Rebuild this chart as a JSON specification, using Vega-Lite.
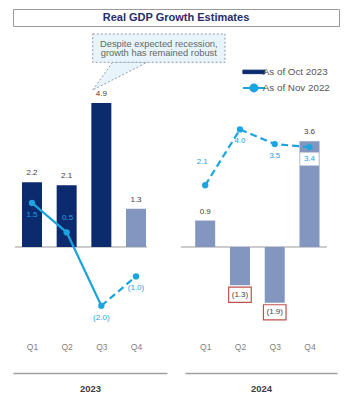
{
  "$schema": "https://vega.github.io/schema/vega-lite/v6.json",
  "padding": {"left": 12, "top": 8, "right": 0, "bottom": 0},
  "spacing": 5,
  "bounds": "flush",
  "datasets": {
    "gdp": [
      {"year": "2023", "q": 1, "oct2023": 2.2, "nov2022": 1.5, "status": "Actual"},
      {"year": "2023", "q": 2, "oct2023": 2.1, "nov2022": 0.5, "status": "Actual"},
      {"year": "2023", "q": 3, "oct2023": 4.9, "nov2022": -2.0, "status": "Actual"},
      {"year": "2023", "q": 4, "oct2023": 1.3, "nov2022": -1.0, "status": "Estimate"},
      {"year": "2024", "q": 1, "oct2023": 0.9, "nov2022": 2.1, "status": "Estimate"},
      {"year": "2024", "q": 2, "oct2023": -1.3, "nov2022": 4.0, "status": "Estimate"},
      {"year": "2024", "q": 3, "oct2023": -1.9, "nov2022": 3.5, "status": "Estimate"},
      {"year": "2024", "q": 4, "oct2023": 3.6, "nov2022": 3.4, "status": "Estimate"}
    ],
    "note": [{"note": ["Despite expected recession,", "growth has remained robust"]}]
  },
  "vconcat": [
    {
      "width": 326,
      "height": 17,
      "view": {"stroke": "#9a9a9a", "strokeWidth": 1},
      "data": {"values": [{"title": "Real GDP Growth Estimates"}]},
      "mark": {"type": "text", "fontSize": 11, "fontWeight": "bold", "color": "#1f2d6d", "font": "Liberation Sans"},
      "encoding": {"text": {"field": "title", "type": "nominal"}}
    },
    {
      "hconcat": [
        {
          "width": 154,
          "height": 342,
          "data": {"name": "gdp"},
          "layer": [
            {
              "transform": [{"filter": "datum.year === '2023'"}, {"aggregate": [{"op": "count", "as": "n"}]}],
              "mark": {"type": "rule", "color": "#9b9b9b", "strokeWidth": 1},
              "encoding": {
                "x": {"datum": 0.51, "type": "quantitative", "title": "2023", "scale": {"domain": [0.452, 4.894], "nice": false, "zero": false, "padding": 0}},
                "x2": {"datum": 4.317},
                "y": {"datum": 0, "type": "quantitative", "scale": {"domain": [-4.286, 7.347], "nice": false, "zero": false, "padding": 0}, "axis": null}
              }
            },
            {
              "transform": [{"filter": "datum.year === '2023'"}],
              "mark": {"type": "bar", "width": 20},
              "encoding": {
                "x": {"field": "q", "type": "quantitative", "title": "2023", "scale": {"domain": [0.452, 4.894], "nice": false, "zero": false, "padding": 0}},
                "y": {"field": "oct2023", "type": "quantitative", "scale": {"domain": [-4.286, 7.347], "nice": false, "zero": false, "padding": 0}, "axis": null},
                "y2": {"datum": 0},
                "color": {"field": "status", "type": "nominal", "scale": {"domain": ["Actual", "Estimate"], "range": ["#0b2b6e", "#8396c0"]}, "legend": null}
              }
            },
            {
              "transform": [{"filter": "datum.year === '2023'"}, {"filter": "datum.oct2023 >= 0"}],
              "mark": {"type": "text", "dy": -9, "fontSize": 8, "color": "#404040"},
              "encoding": {
                "x": {"field": "q", "type": "quantitative", "title": "2023", "scale": {"domain": [0.452, 4.894], "nice": false, "zero": false, "padding": 0}},
                "y": {"field": "oct2023", "type": "quantitative", "scale": {"domain": [-4.286, 7.347], "nice": false, "zero": false, "padding": 0}, "axis": null},
                "text": {"field": "oct2023", "type": "quantitative", "format": "(.1f"}
              }
            },
            {
              "transform": [{"filter": "datum.year === '2023'"}, {"filter": "datum.q <= 3"}],
              "mark": {"type": "line", "strokeWidth": 2.2},
              "encoding": {
                "x": {"field": "q", "type": "quantitative", "title": "2023", "scale": {"domain": [0.452, 4.894], "nice": false, "zero": false, "padding": 0}},
                "y": {"field": "nov2022", "type": "quantitative", "scale": {"domain": [-4.286, 7.347], "nice": false, "zero": false, "padding": 0}, "axis": null},
                "stroke": {
                  "datum": "As of Nov 2022",
                  "type": "nominal",
                  "scale": {"domain": ["As of Oct 2023", "As of Nov 2022"], "range": ["#0b2b6e", "#1ca4e0"]},
                  "legend": {
                    "title": null,
                    "orient": "none",
                    "legendX": 236,
                    "legendY": 58,
                    "padding": 0,
                    "symbolSize": 196,
                    "labelOffset": 4,
                    "rowPadding": 3,
                    "labelFontSize": 9.8,
                    "labelColor": "#555555",
                    "labelFont": "Liberation Sans",
                    "encode": {
                      "symbols": {
                        "update": {
                          "shape": {"signal": "datum.value === 'As of Oct 2023' ? 'M-1.571,-0.25H1.571V0.25H-1.571Z' : 'M-1.571,0H-0.5A0.5,0.5 0 1 1 0.5,0A0.5,0.5 0 1 1 -0.5,0M0.5,0H1.571'"},
                          "fill": {"signal": "datum.value === 'As of Oct 2023' ? '#0b2b6e' : '#1ca4e0'"},
                          "stroke": {"signal": "datum.value === 'As of Oct 2023' ? '#0b2b6e' : '#1ca4e0'"},
                          "strokeWidth": {"signal": "datum.value === 'As of Oct 2023' ? 1 : 2"},
                          "opacity": {"value": 1}
                        }
                      }
                    }
                  }
                }
              }
            },
            {
              "transform": [{"filter": "datum.year === '2023'"}, {"filter": "datum.q >= 3"}],
              "mark": {"type": "line", "strokeWidth": 2.2, "stroke": "#1ca4e0", "strokeDash": [7, 4]},
              "encoding": {
                "x": {"field": "q", "type": "quantitative", "title": "2023", "scale": {"domain": [0.452, 4.894], "nice": false, "zero": false, "padding": 0}},
                "y": {"field": "nov2022", "type": "quantitative", "scale": {"domain": [-4.286, 7.347], "nice": false, "zero": false, "padding": 0}, "axis": null}
              }
            },
            {
              "transform": [{"filter": "datum.year === '2023'"}],
              "mark": {"type": "circle", "size": 40, "color": "#1ca4e0", "opacity": 1},
              "encoding": {
                "x": {"field": "q", "type": "quantitative", "title": "2023", "scale": {"domain": [0.452, 4.894], "nice": false, "zero": false, "padding": 0}},
                "y": {"field": "nov2022", "type": "quantitative", "scale": {"domain": [-4.286, 7.347], "nice": false, "zero": false, "padding": 0}, "axis": null}
              }
            },
            {
              "transform": [{"filter": "datum.year === '2023'"}, {"filter": "datum.q !== 2"}],
              "mark": {"type": "text", "dy": 12, "fontSize": 8, "color": "#1ca4e0"},
              "encoding": {
                "x": {"field": "q", "type": "quantitative", "title": "2023", "scale": {"domain": [0.452, 4.894], "nice": false, "zero": false, "padding": 0}},
                "y": {"field": "nov2022", "type": "quantitative", "scale": {"domain": [-4.286, 7.347], "nice": false, "zero": false, "padding": 0}, "axis": null},
                "text": {"field": "nov2022", "type": "quantitative", "format": "(.1f"}
              }
            },
            {
              "transform": [{"filter": "datum.year === '2023'"}, {"filter": "datum.q === 2"}],
              "mark": {"type": "text", "dy": -14, "dx": 1, "fontSize": 8, "color": "#1ca4e0"},
              "encoding": {
                "x": {"field": "q", "type": "quantitative", "title": "2023", "scale": {"domain": [0.452, 4.894], "nice": false, "zero": false, "padding": 0}},
                "y": {"field": "nov2022", "type": "quantitative", "scale": {"domain": [-4.286, 7.347], "nice": false, "zero": false, "padding": 0}, "axis": null},
                "text": {"field": "nov2022", "type": "quantitative", "format": "(.1f"}
              }
            },
            {
              "data": {"name": "note"},
              "mark": {"type": "point", "shape": "M0,0L20,-28L55,-28Z", "size": 4, "filled": true, "fill": "#e8f4fc", "stroke": "#8d9bab", "strokeWidth": 1, "strokeDash": [2, 2], "opacity": 1},
              "encoding": {
                "x": {"datum": 2.751, "type": "quantitative", "title": "2023", "scale": {"domain": [0.452, 4.894], "nice": false, "zero": false, "padding": 0}},
                "y": {"datum": 5.34, "type": "quantitative", "scale": {"domain": [-4.286, 7.347], "nice": false, "zero": false, "padding": 0}, "axis": null}
              }
            },
            {
              "data": {"name": "note"},
              "mark": {"type": "rect", "fill": "#e8f4fc", "stroke": "#8d9bab", "strokeWidth": 1, "strokeDash": [2, 2]},
              "encoding": {
                "x": {"datum": 2.751, "type": "quantitative", "title": "2023", "scale": {"domain": [0.452, 4.894], "nice": false, "zero": false, "padding": 0}},
                "x2": {"datum": 6.567},
                "y": {"datum": 7.245, "type": "quantitative", "scale": {"domain": [-4.286, 7.347], "nice": false, "zero": false, "padding": 0}, "axis": null},
                "y2": {"datum": 6.282}
              }
            },
            {
              "data": {"name": "note"},
              "mark": {"type": "text", "fontSize": 9.4, "color": "#666666", "lineHeight": 9.5, "align": "center", "baseline": "middle"},
              "encoding": {
                "x": {"datum": 4.657, "type": "quantitative", "title": "2023", "scale": {"domain": [0.452, 4.894], "nice": false, "zero": false, "padding": 0}},
                "y": {"datum": 6.905, "type": "quantitative", "scale": {"domain": [-4.286, 7.347], "nice": false, "zero": false, "padding": 0}, "axis": null},
                "text": {"field": "note", "type": "nominal"}
              }
            }
          ]
        },
        {
          "width": 152,
          "height": 342,
          "data": {"name": "gdp"},
          "layer": [
            {
              "transform": [{"filter": "datum.year === '2024'"}, {"aggregate": [{"op": "count", "as": "n"}]}],
              "mark": {"type": "rule", "color": "#9b9b9b", "strokeWidth": 1},
              "encoding": {
                "x": {"datum": 0.30, "type": "quantitative", "title": "2024", "scale": {"domain": [0.419, 4.791], "nice": false, "zero": false, "padding": 0}},
                "x2": {"datum": 4.503},
                "y": {"datum": 0, "type": "quantitative", "scale": {"domain": [-4.286, 7.347], "nice": false, "zero": false, "padding": 0}, "axis": null}
              }
            },
            {
              "transform": [{"filter": "datum.year === '2024'"}],
              "mark": {"type": "bar", "width": 20},
              "encoding": {
                "x": {"field": "q", "type": "quantitative", "title": "2024", "scale": {"domain": [0.419, 4.791], "nice": false, "zero": false, "padding": 0}},
                "y": {"field": "oct2023", "type": "quantitative", "scale": {"domain": [-4.286, 7.347], "nice": false, "zero": false, "padding": 0}, "axis": null},
                "y2": {"datum": 0},
                "color": {"field": "status", "type": "nominal", "scale": {"domain": ["Actual", "Estimate"], "range": ["#0b2b6e", "#8396c0"]}, "legend": null}
              }
            },
            {
              "transform": [{"filter": "datum.year === '2024'"}, {"filter": "datum.oct2023 >= 0"}],
              "mark": {"type": "text", "dy": -9, "fontSize": 8, "color": "#404040"},
              "encoding": {
                "x": {"field": "q", "type": "quantitative", "title": "2024", "scale": {"domain": [0.419, 4.791], "nice": false, "zero": false, "padding": 0}},
                "y": {"field": "oct2023", "type": "quantitative", "scale": {"domain": [-4.286, 7.347], "nice": false, "zero": false, "padding": 0}, "axis": null},
                "text": {"field": "oct2023", "type": "quantitative", "format": "(.1f"}
              }
            },
            {
              "transform": [{"filter": "datum.year === '2024'"}, {"filter": "datum.oct2023 < 0"}],
              "mark": {"type": "point", "shape": "M-11.3,-7.6H11.3V7.6H-11.3Z", "size": 4, "filled": true, "fill": "#ffffff", "stroke": "#c0504d", "strokeWidth": 1.2, "yOffset": 9.5, "opacity": 1},
              "encoding": {
                "x": {"field": "q", "type": "quantitative", "title": "2024", "scale": {"domain": [0.419, 4.791], "nice": false, "zero": false, "padding": 0}},
                "y": {"field": "oct2023", "type": "quantitative", "scale": {"domain": [-4.286, 7.347], "nice": false, "zero": false, "padding": 0}, "axis": null}
              }
            },
            {
              "transform": [{"filter": "datum.year === '2024'"}, {"filter": "datum.oct2023 < 0"}],
              "mark": {"type": "text", "dy": 9.5, "fontSize": 8, "color": "#404040"},
              "encoding": {
                "x": {"field": "q", "type": "quantitative", "title": "2024", "scale": {"domain": [0.419, 4.791], "nice": false, "zero": false, "padding": 0}},
                "y": {"field": "oct2023", "type": "quantitative", "scale": {"domain": [-4.286, 7.347], "nice": false, "zero": false, "padding": 0}, "axis": null},
                "text": {"field": "oct2023", "type": "quantitative", "format": "(.1f"}
              }
            },
            {
              "transform": [{"filter": "datum.year === '2024'"}],
              "mark": {"type": "line", "strokeWidth": 2.2, "stroke": "#1ca4e0", "strokeDash": [7, 4]},
              "encoding": {
                "x": {"field": "q", "type": "quantitative", "title": "2024", "scale": {"domain": [0.419, 4.791], "nice": false, "zero": false, "padding": 0}},
                "y": {"field": "nov2022", "type": "quantitative", "scale": {"domain": [-4.286, 7.347], "nice": false, "zero": false, "padding": 0}, "axis": null}
              }
            },
            {
              "transform": [{"filter": "datum.year === '2024'"}],
              "mark": {"type": "circle", "size": 40, "color": "#1ca4e0", "opacity": 1},
              "encoding": {
                "x": {"field": "q", "type": "quantitative", "title": "2024", "scale": {"domain": [0.419, 4.791], "nice": false, "zero": false, "padding": 0}},
                "y": {"field": "nov2022", "type": "quantitative", "scale": {"domain": [-4.286, 7.347], "nice": false, "zero": false, "padding": 0}, "axis": null}
              }
            },
            {
              "transform": [{"filter": "datum.year === '2024'"}, {"filter": "datum.q === 4"}],
              "mark": {"type": "point", "shape": "M-9.5,-6.5H9.5V6.5H-9.5Z", "size": 4, "filled": true, "fill": "#ffffff", "stroke": "#c9cfdb", "strokeWidth": 0.8, "yOffset": 12, "opacity": 1},
              "encoding": {
                "x": {"field": "q", "type": "quantitative", "title": "2024", "scale": {"domain": [0.419, 4.791], "nice": false, "zero": false, "padding": 0}},
                "y": {"field": "nov2022", "type": "quantitative", "scale": {"domain": [-4.286, 7.347], "nice": false, "zero": false, "padding": 0}, "axis": null}
              }
            },
            {
              "transform": [{"filter": "datum.year === '2024'"}, {"filter": "datum.q !== 1"}],
              "mark": {"type": "text", "dy": 12, "fontSize": 8, "color": "#1ca4e0"},
              "encoding": {
                "x": {"field": "q", "type": "quantitative", "title": "2024", "scale": {"domain": [0.419, 4.791], "nice": false, "zero": false, "padding": 0}},
                "y": {"field": "nov2022", "type": "quantitative", "scale": {"domain": [-4.286, 7.347], "nice": false, "zero": false, "padding": 0}, "axis": null},
                "text": {"field": "nov2022", "type": "quantitative", "format": "(.1f"}
              }
            },
            {
              "transform": [{"filter": "datum.year === '2024'"}, {"filter": "datum.q === 1"}],
              "mark": {"type": "text", "dy": -23, "dx": -3, "fontSize": 8, "color": "#1ca4e0"},
              "encoding": {
                "x": {"field": "q", "type": "quantitative", "title": "2024", "scale": {"domain": [0.419, 4.791], "nice": false, "zero": false, "padding": 0}},
                "y": {"field": "nov2022", "type": "quantitative", "scale": {"domain": [-4.286, 7.347], "nice": false, "zero": false, "padding": 0}, "axis": null},
                "text": {"field": "nov2022", "type": "quantitative", "format": "(.1f"}
              }
            }
          ]
        }
      ],
      "spacing": 18,
      "bounds": "flush"
    }
  ],
  "config": {
    "view": {"stroke": null},
    "font": "Liberation Sans",
    "text": {"font": "Liberation Sans"},
    "axisX": {
      "domainColor": "#a0a0a0",
      "domainWidth": 1.5,
      "ticks": false,
      "tickSize": 0,
      "grid": false,
      "tickCount": 4,
      "labelPadding": -27,
      "labelBaseline": "middle",
      "labelFontSize": 8.5,
      "labelColor": "#808080",
      "labelExpr": "'Q' + datum.value",
      "labelFlush": false,
      "titleFontSize": 9.5,
      "titleFontWeight": "bold",
      "titleColor": "#404040",
      "titlePadding": 10
    }
  }
}
